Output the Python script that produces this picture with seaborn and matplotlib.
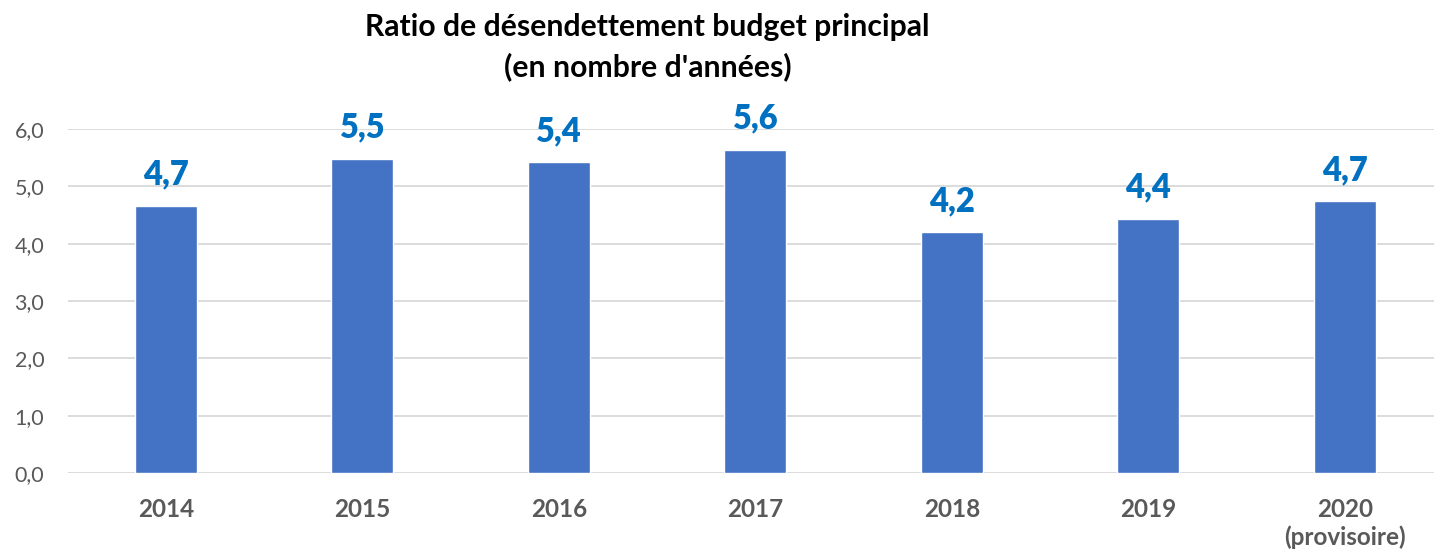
import matplotlib
matplotlib.use("Agg")
import matplotlib.pyplot as plt
import seaborn as sns
import pandas as pd

# Debt reduction ratio of the main budget (years)
years = ["2014", "2015", "2016", "2017", "2018", "2019", "2020\n(provisoire)"]
ratios = [4.66, 5.48, 5.42, 5.64, 4.20, 4.43, 4.74]
y_ticks = [0, 1, 2, 3, 4, 5, 6]

df = pd.DataFrame({"annee": years, "ratio": ratios})

sns.set_theme(style="white")
plt.rcParams["font.family"] = ["Lato", "DejaVu Sans"]

W, H = 1434, 553
fig = plt.figure(figsize=(W / 100, H / 100), dpi=100)
left, right = 67.75, 1443.0
bottom, top = 473.0, 129.0
ax = fig.add_axes([left / W, 1 - bottom / H, (right - left) / W, (bottom - top) / H])

sns.barplot(data=df, x="annee", y="ratio", color="#4472C4", saturation=1,
            width=0.316, ax=ax, zorder=3)

ax.set_xlim(-0.5, len(years) - 0.5)
ax.set_ylim(0, 6)
ax.set_yticks(y_ticks)
ax.set_yticklabels([f"{v:.1f}".replace(".", ",") for v in y_ticks],
                   fontsize=15.5, color="#595959")
ax.tick_params(axis="y", length=0, pad=17)
ax.tick_params(axis="x", length=0, pad=18)
for lbl in ax.get_xticklabels():
    lbl.set_fontsize(17.5)
    lbl.set_fontweight("bold")
    lbl.set_color("#595959")
    lbl.set_linespacing(1.2)
    lbl.set_verticalalignment("top")

ax.grid(axis="y", color="#D9D9D9", linewidth=1.3, zorder=0)
for s in ax.spines.values():
    s.set_visible(False)
ax.set_xlabel("")
ax.set_ylabel("")

for cont in ax.containers:
    ax.bar_label(cont, labels=[f"{v:.1f}".replace(".", ",") for v in ratios],
                 padding=11, fontsize=23.5, fontweight="heavy", color="#0070C0")

fig.text(647.5 / W, 1 - 13 / H,
         "Ratio de désendettement budget principal\n(en nombre d'années)",
         ha="center", va="top", fontsize=21.7, fontweight="bold",
         color="#000000", linespacing=1.45)

fig.savefig("out.png", dpi=100)
